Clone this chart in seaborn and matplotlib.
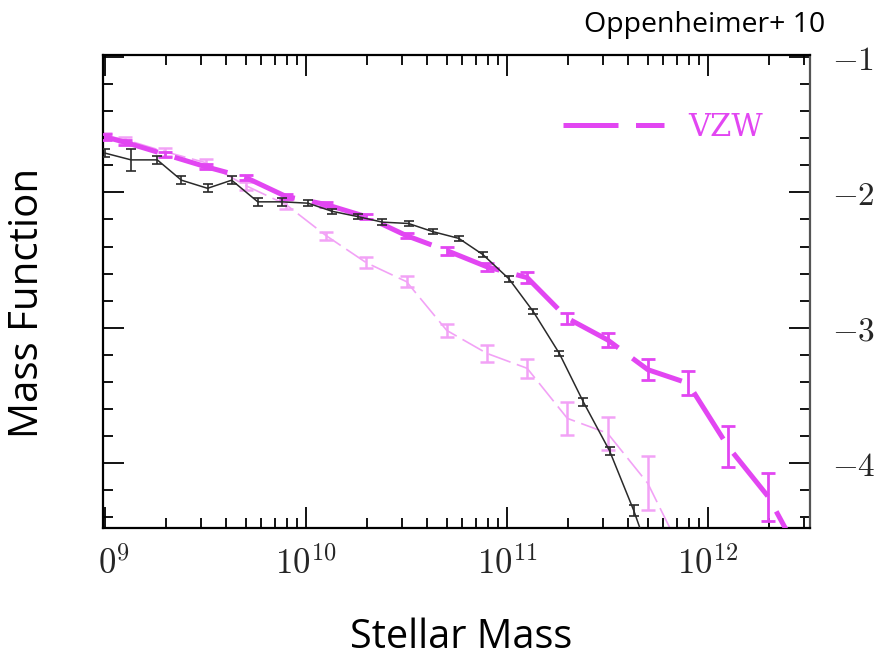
import numpy as np
import pandas as pd
import seaborn as sns
import matplotlib
matplotlib.use("Agg")
import matplotlib.pyplot as plt
from matplotlib.ticker import FixedLocator, MultipleLocator, NullFormatter
import matplotlib.transforms as mtransforms

# ---------------- data (log10 stellar mass, log10 mass function) ----------------
black_logm = [9.00, 9.13, 9.26, 9.38, 9.51, 9.63, 9.76, 9.88, 10.01, 10.13, 10.26,
              10.38, 10.51, 10.63, 10.76, 10.88, 11.01, 11.13, 11.26, 11.38, 11.51,
              11.63, 11.76]
black_phi = [-1.71, -1.76, -1.76, -1.91, -1.97, -1.91, -2.07, -2.07, -2.08, -2.14, -2.18,
             -2.22, -2.23, -2.29, -2.34, -2.46, -2.64, -2.88, -3.19, -3.55, -3.91,
             -4.35, -4.90]
black_err = [0.03, 0.08, 0.03, 0.03, 0.03, 0.03, 0.03, 0.03, 0.02, 0.02, 0.02,
             0.02, 0.02, 0.02, 0.02, 0.02, 0.02, 0.02, 0.02, 0.03, 0.03,
             0.04, 0.05]

vzw_logm = [9.00, 9.10, 9.30, 9.50, 9.70, 9.90, 10.10, 10.30, 10.50, 10.70, 10.90,
            11.10, 11.30, 11.50, 11.70, 11.90, 12.10, 12.30, 12.50]
vzw_phi = [-1.59, -1.63, -1.72, -1.81, -1.89, -2.03, -2.09, -2.18, -2.32, -2.43, -2.55,
           -2.63, -2.93, -3.09, -3.31, -3.41, -3.88, -4.25, -4.80]
vzw_err = [0.02, 0.02, 0.02, 0.02, 0.02, 0.02, 0.02, 0.02, 0.02, 0.03, 0.03,
           0.04, 0.04, 0.05, 0.08, 0.09, 0.15, 0.18, 0.25]

thin_logm = [9.00, 9.10, 9.30, 9.50, 9.70, 9.90, 10.10, 10.30, 10.50, 10.70, 10.90,
             11.10, 11.30, 11.50, 11.70, 11.90]
thin_phi = [-1.58, -1.61, -1.70, -1.78, -1.95, -2.09, -2.32, -2.52, -2.66, -3.02, -3.19,
            -3.30, -3.67, -3.78, -4.15, -4.75]
thin_err = [0.02, 0.02, 0.03, 0.03, 0.03, 0.03, 0.03, 0.04, 0.04, 0.05, 0.06,
            0.07, 0.12, 0.12, 0.20, 0.25]

xtick_logm = [9, 10, 11, 12]
xtick_labels = ["$0^{9}$", "$10^{10}$", "$10^{11}$", "$10^{12}$"]
ytick_vals = [-1, -2, -3, -4]
ytick_labels = ["$-1$", "$-2$", "$-3$", "$-4$"]

# ---------------- style ----------------
sns.set_theme(style="white")
plt.rcParams["font.family"] = ["Open Sans", "DejaVu Sans"]
plt.rcParams["mathtext.fontset"] = "cm"

C_BLACK = "#2a2a2a"
C_VZW = "#e246f2"
C_THIN = "#f2a2f6"

fig = plt.figure(figsize=(8.88, 6.6), dpi=100)
W, H = 888.0, 660.0
ax = fig.add_axes([103 / W, 1 - 528 / H, (810 - 103) / W, (528 - 55) / H])

def frame(logm, phi, err):
    return pd.DataFrame({"mass": np.power(10.0, logm), "phi": phi, "err": err})

d_thin = frame(thin_logm, thin_phi, thin_err)
d_vzw = frame(vzw_logm, vzw_phi, vzw_err)
d_black = frame(black_logm, black_phi, black_err)

# thin light-magenta series
sns.lineplot(data=d_thin, x="mass", y="phi", ax=ax, color=C_THIN, lw=1.2,
             linestyle=(0, (14, 4)), sort=False, errorbar=None, zorder=2)
ax.errorbar(d_thin["mass"], d_thin["phi"], yerr=d_thin["err"], fmt="none",
            ecolor=C_THIN, elinewidth=1.8, capsize=5, capthick=1.8, zorder=2)

# thick VZW series
sns.lineplot(data=d_vzw, x="mass", y="phi", ax=ax, color=C_VZW, lw=3.6,
             linestyle=(0, (11, 3.5)), sort=False, errorbar=None, zorder=3,
             label="VZW")
ax.errorbar(d_vzw["mass"], d_vzw["phi"], yerr=d_vzw["err"], fmt="none",
            ecolor=C_VZW, elinewidth=2.0, capsize=5, capthick=2.0, zorder=3)

# black series
sns.lineplot(data=d_black, x="mass", y="phi", ax=ax, color=C_BLACK, lw=1.1,
             sort=False, errorbar=None, zorder=4)
ax.errorbar(d_black["mass"], d_black["phi"], yerr=d_black["err"], fmt="none",
            ecolor=C_BLACK, elinewidth=1.2, capsize=3.8, capthick=1.2, zorder=4)

# ---------------- axes ----------------
ax.set_xscale("log")
ax.set_xlim(10 ** 8.99, 10 ** 12.507)
ax.set_ylim(-4.48, -0.985)

ax.xaxis.set_major_locator(FixedLocator([10.0 ** v for v in xtick_logm]))
minor = [m * 10.0 ** d for d in range(8, 13) for m in range(2, 10)]
ax.xaxis.set_minor_locator(FixedLocator(minor))
ax.xaxis.set_minor_formatter(NullFormatter())
ax.set_xticklabels(xtick_labels)

ax.yaxis.set_major_locator(FixedLocator(ytick_vals))
ax.yaxis.set_minor_locator(MultipleLocator(0.2))
ax.set_yticklabels(ytick_labels)

ax.tick_params(which="both", direction="in", top=True, bottom=True, left=True,
               right=True, labelleft=False, labelright=True, labelbottom=True,
               color="black", width=1.3)
ax.tick_params(which="major", length=15)
ax.tick_params(which="minor", length=7.5)
ax.tick_params(axis="x", which="major", labelsize=25, pad=14)
ax.tick_params(axis="y", which="major", labelsize=24, pad=16)

# shift the clipped "0^9" label to match the cropped original
lab0 = ax.get_xticklabels()[0]
lab0.set_transform(lab0.get_transform() + mtransforms.ScaledTranslation(9 / 100, 0, fig.dpi_scale_trans))

for s in ["left", "top", "bottom"]:
    ax.spines[s].set_color("black")
    ax.spines[s].set_linewidth(1.6)
ax.spines["right"].set_color("#555555")
ax.spines["right"].set_linewidth(1.6)

ax.set_xlabel("")
ax.set_ylabel("")

leg = ax.legend(loc="upper left", bbox_to_anchor=((563 - 103) / 707, 1 - (112 - 55) / 473),
                frameon=False, handlelength=3.3, handletextpad=0.8, borderpad=0,
                borderaxespad=0,
                prop={"family": "DejaVu Serif", "size": 22})
for t in leg.get_texts():
    t.set_color(C_VZW)

# ---------------- text ----------------
fig.text(825 / W, 1 - 32 / H, "Oppenheimer+ 10", ha="right", va="baseline",
         fontsize=20.5, color="black")
fig.text(461 / W, 1 - 648 / H, "Stellar Mass", ha="center", va="baseline",
         fontsize=28.5, color="black")
fig.text(28 / W, 1 - 303 / H, "Mass Function", ha="center", va="center",
         rotation=90, fontsize=29, color="black")

fig.savefig("out.png", dpi=100)
